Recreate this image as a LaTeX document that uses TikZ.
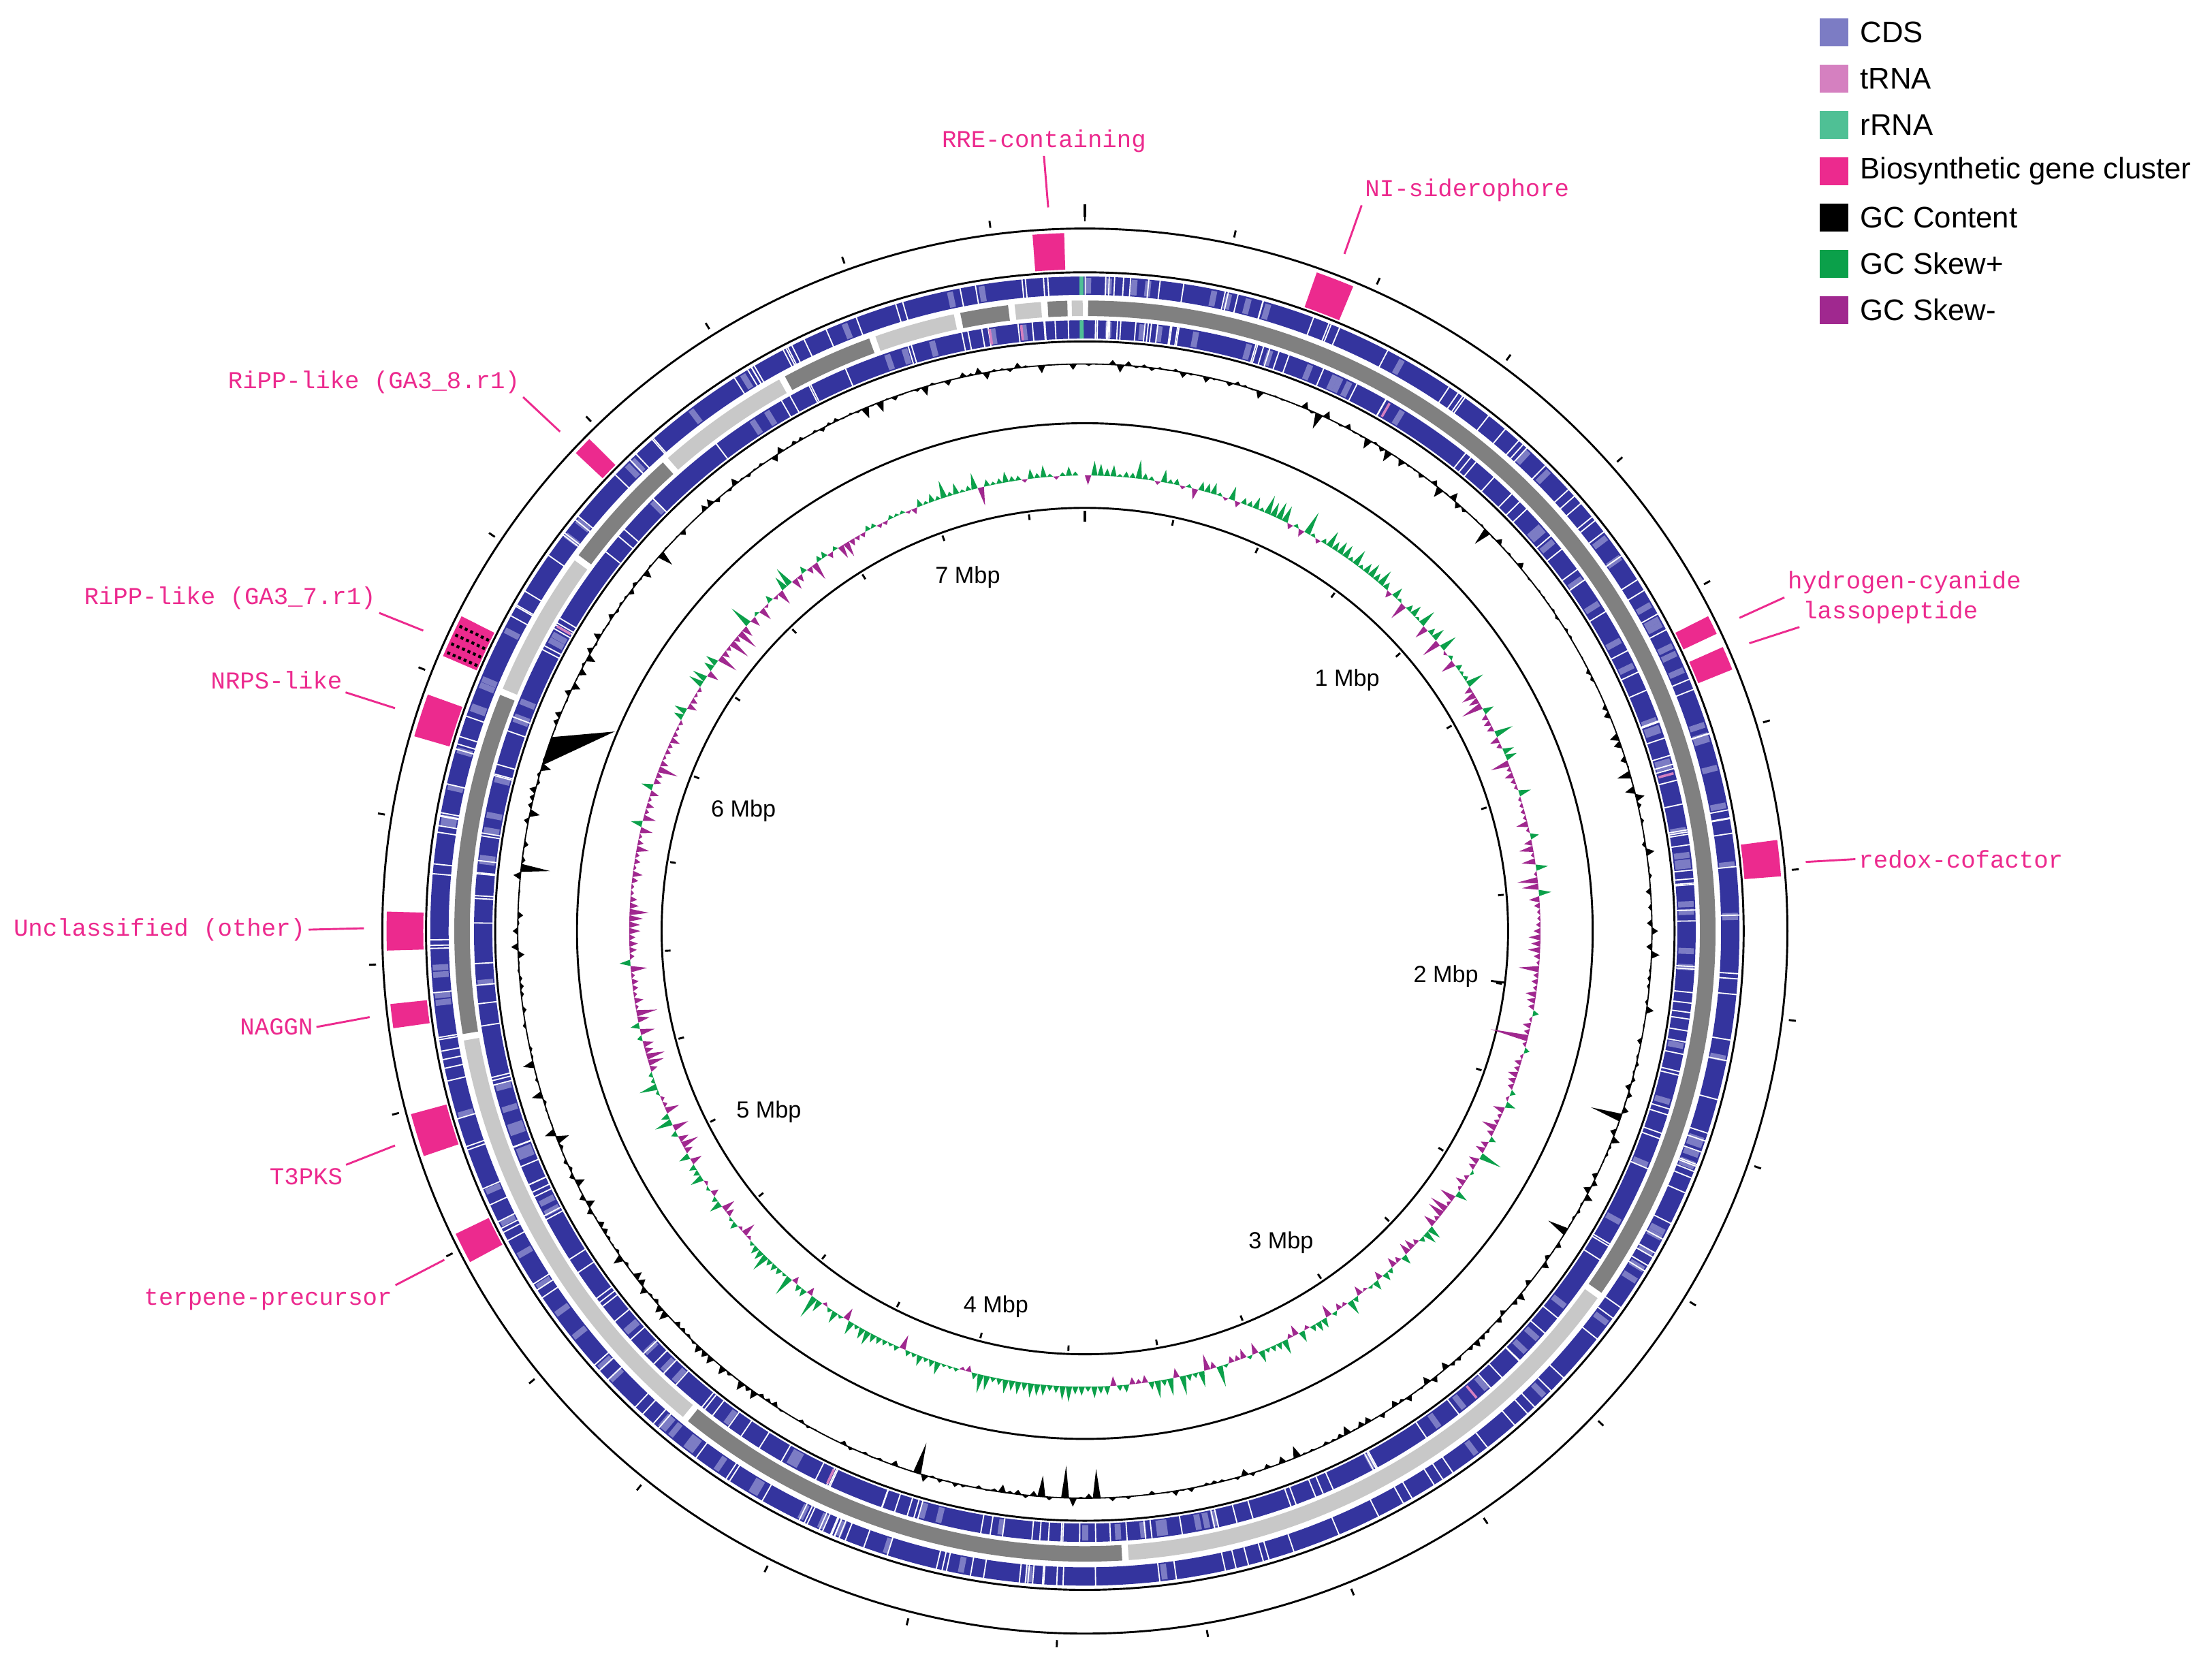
\documentclass[tikz,border=0pt]{standalone}
\usepackage{fontspec}
\setmainfont{Liberation Sans}
\newfontfamily\bgcfont{Liberation Mono}
\definecolor{cdsblue}{HTML}{34349E}
\definecolor{cdslight}{HTML}{7C7CC4}
\definecolor{trnacol}{HTML}{D580C0}
\definecolor{rrnacol}{HTML}{4FC095}
\definecolor{bgcpink}{HTML}{EC2A8E}
\definecolor{skewplus}{HTML}{0BA04A}
\definecolor{skewminus}{HTML}{A0288F}
\definecolor{contigdark}{HTML}{808080}
\definecolor{contiglight}{HTML}{C8C8C8}
\newcommand{\arcband}[5]{\fill[#5] ({90-(#1)}:#3) arc[start angle={90-(#1)}, end angle={90-(#2)}, radius=#3] -- ({90-(#2)}:#4) arc[start angle={90-(#2)}, end angle={90-(#1)}, radius=#4] -- cycle;}
\begin{document}
\begin{tikzpicture}[
  bgclabel/.style={text=bgcpink, font=\bgcfont\fontsize{4.9}{6}\selectfont, inner sep=0.5pt},
  leader/.style={bgcpink, line width=0.4pt},
  mbp/.style={font=\fontsize{4.7}{6}\selectfont},
  legtext/.style={anchor=west, font=\fontsize{6}{7}\selectfont, inner sep=0pt},
  ring/.style={line width=0.4pt}
]
\useasboundingbox (0,0) rectangle (15.68,-11.77);
\pgfmathsetseed{11}

\begin{scope}[shift={(7.69,-6.60)}]
% circles
\draw[ring] (0,0) circle (4.98);
\draw[ring] (0,0) circle (4.67);
\draw[ring] (0,0) circle (4.18);
\draw[ring] (0,0) circle (3.60);
\draw[ring] (0,0) circle (3.00);

% outer ticks
\foreach \k in {0,...,29}
  \draw[line width=0.4pt] ({90-12.15*\k}:5.03) -- ({90-12.15*\k}:5.08);
\draw[line width=0.6pt] (90:5.06) -- (90:5.15);
% inner ticks
\foreach \k in {0,...,29}
  \draw[line width=0.4pt] ({90-12.15*\k}:2.94) -- ({90-12.15*\k}:2.98);
\draw[line width=0.6pt] (90:2.90) -- (90:2.98);
\draw[line width=0.4pt] ({90-97}:2.90) -- ({90-97}:3.00);

% CDS rings
\fill[cdsblue, even odd rule] (0,0) circle (4.64) circle (4.51);
\fill[cdsblue, even odd rule] (0,0) circle (4.33) circle (4.20);
\foreach \i in {1,...,90} {
  \pgfmathsetmacro\a{360*rnd}
  \pgfmathsetmacro\b{360*rnd}
  \draw[cdslight, line width=1.2pt] ({90-\a}:4.52) -- ({90-\a}:4.63);
  \draw[cdslight, line width=1.2pt] ({90-\b}:4.21) -- ({90-\b}:4.32);
}
\foreach \i in {1,...,200} {
  \pgfmathsetmacro\a{360*rnd}
  \pgfmathsetmacro\b{360*rnd}
  \draw[white, line width=0.25pt] ({90-\a}:4.50) -- ({90-\a}:4.65);
  \draw[white, line width=0.25pt] ({90-\b}:4.19) -- ({90-\b}:4.34);
}
\foreach \t in {-9,-6,30,75,140,205,300}
  \draw[trnacol, line width=0.5pt] ({90-\t}:4.21) -- ({90-\t}:4.32);
\draw[rrnacol, line width=0.8pt] ({90+0.3}:4.51) -- ({90+0.3}:4.64);
\draw[rrnacol, line width=0.8pt] ({90+0.3}:4.20) -- ({90+0.3}:4.33);

% contigs
\arcband{0.3}{125}{4.36}{4.47}{contigdark}
\arcband{125.6}{176}{4.36}{4.47}{contiglight}
\arcband{176.6}{219}{4.36}{4.47}{contigdark}
\arcband{219.6}{260}{4.36}{4.47}{contiglight}
\arcband{260.6}{292}{4.36}{4.47}{contigdark}
\arcband{292.6}{306}{4.36}{4.47}{contiglight}
\arcband{306.6}{318}{4.36}{4.47}{contigdark}
\arcband{318.6}{331}{4.36}{4.47}{contiglight}
\arcband{331.6}{340}{4.36}{4.47}{contigdark}
\arcband{340.6}{348}{4.36}{4.47}{contiglight}
\arcband{348.6}{353}{4.36}{4.47}{contigdark}
\arcband{353.6}{356}{4.36}{4.47}{contiglight}
\arcband{356.6}{358.4}{4.36}{4.47}{contigdark}
\arcband{358.8}{359.8}{4.36}{4.47}{contiglight}

% GC content
\draw[line width=0.25pt] (0,0) circle (4.02);
\foreach \a in {0,0.8,...,359.2} {
  \pgfmathsetmacro\h{0.08*(2*rnd-1)*rnd+(rnd>0.95)*(-0.22*rnd)}
  \fill ({90-\a}:4.02) -- ({90-\a-0.4}:{4.02+\h}) -- ({90-\a-0.8}:4.02) -- cycle;
}
\fill ({90+73}:4.02) -- ({90+67}:3.62) -- ({90+70}:4.02) -- cycle;

% GC skew
\foreach \a in {0,0.8,...,359.2} {
  \pgfmathsetmacro\p{0.5+0.38*cos(2*(\a-10))}
  \pgfmathsetmacro\m{0.02+0.16*rnd*rnd+(rnd>0.94)*0.12*rnd}
  \pgfmathparse{rnd<\p ? 1 : 0}
  \ifnum\pgfmathresult=1
    \fill[skewplus] ({90-\a}:3.23) -- ({90-\a-0.4}:{3.23+\m}) -- ({90-\a-0.8}:3.23) -- cycle;
  \else
    \fill[skewminus] ({90-\a}:3.23) -- ({90-\a-0.4}:{3.23-\m}) -- ({90-\a-0.8}:3.23) -- cycle;
  \fi
}

% biosynthetic gene clusters
\arcband{-4.3}{-1.7}{4.69}{4.95}{bgcpink}
\arcband{19.4}{22.6}{4.69}{4.95}{bgcpink}
\arcband{-46.8}{-45.2}{4.69}{4.95}{bgcpink}
\arcband{-66.8}{-63.2}{4.69}{4.95}{bgcpink}
\foreach \t in {-66.4,-65.6,...,-63.4}
  \draw[black, line width=0.6pt, dash pattern=on 0.6pt off 0.6pt] ({90-\t}:4.70) -- ({90-\t}:4.94);
\arcband{-73.8}{-70.2}{4.69}{4.95}{bgcpink}
\arcband{-91.6}{-88.4}{4.69}{4.95}{bgcpink}
\arcband{-98}{-96}{4.69}{4.95}{bgcpink}
\arcband{-108.8}{-105.2}{4.69}{4.95}{bgcpink}
\arcband{-118.3}{-115.7}{4.69}{4.95}{bgcpink}
\arcband{63.2}{64.8}{4.69}{4.95}{bgcpink}
\arcband{66}{68}{4.69}{4.95}{bgcpink}
\arcband{82.5}{85.5}{4.69}{4.95}{bgcpink}
\end{scope}

% Mbp labels
\node[mbp] (m1) at (9.55,-4.82) {1 Mbp};
\node[mbp] (m2) at (10.25,-6.92) {2 Mbp};
\node[mbp] (m3) at (9.08,-8.81) {3 Mbp};
\node[mbp] (m4) at (7.06,-9.26) {4 Mbp};
\node[mbp] (m5) at (5.45,-7.88) {5 Mbp};
\node[mbp] (m6) at (5.27,-5.75) {6 Mbp};
\node[mbp] (m7) at (6.86,-4.09) {7 Mbp};

% cluster labels
\node[bgclabel] (lRRE) at (7.40,-1.00) {RRE-containing};
\node[bgclabel] (lNI) at (10.40,-1.35) {NI-siderophore};
\node[bgclabel] (lRiPPa) at (2.65,-2.71) {RiPP-like (GA3\_8.r1)};
\node[bgclabel] (lRiPPb) at (1.63,-4.24) {RiPP-like (GA3\_7.r1)};
\node[bgclabel] (lNRPS) at (1.96,-4.82) {NRPS-like};
\node[bgclabel] (lUncl) at (1.13,-6.59) {Unclassified (other)};
\node[bgclabel] (lNAGGN) at (1.96,-7.28) {NAGGN};
\node[bgclabel] (lT3PKS) at (2.17,-8.34) {T3PKS};
\node[bgclabel] (lTerp) at (1.90,-9.21) {terpene-precursor};
\node[bgclabel] (lHCN) at (13.50,-4.13) {hydrogen-cyanide};
\node[bgclabel] (lLasso) at (13.40,-4.34) {lassopeptide};
\node[bgclabel] (lRedox) at (13.90,-6.09) {redox-cofactor};

\coordinate (eRRE) at (7.43,-1.47);
\coordinate (eNI) at (9.53,-1.80);
\coordinate (eRiPPa) at (3.97,-3.06);
\coordinate (eRiPPb) at (3.00,-4.47);
\coordinate (eNRPS) at (2.80,-5.02);
\coordinate (eUncl) at (2.58,-6.58);
\coordinate (eNAGGN) at (2.62,-7.21);
\coordinate (eT3PKS) at (2.80,-8.12);
\coordinate (eTerp) at (3.15,-8.93);
\coordinate (eHCN) at (12.33,-4.38);
\coordinate (eLasso) at (12.40,-4.56);
\coordinate (eRedox) at (12.80,-6.11);

\draw[leader] (lRRE.south) -- (eRRE);
\draw[leader] (lNI.south west) -- (eNI);
\draw[leader] (lRiPPa.south east) -- (eRiPPa);
\draw[leader] (lRiPPb.south east) -- (eRiPPb);
\draw[leader] (lNRPS.south east) -- (eNRPS);
\draw[leader] (lUncl.east) -- (eUncl);
\draw[leader] (lNAGGN.east) -- (eNAGGN);
\draw[leader] (lT3PKS.north east) -- (eT3PKS);
\draw[leader] (lTerp.north east) -- (eTerp);
\draw[leader] (lHCN.south west) -- (eHCN);
\draw[leader] (lLasso.south west) -- (eLasso);
\draw[leader] (lRedox.west) -- (eRedox);

% legend
\foreach \col/\txt [count=\i] in {cdslight/CDS, trnacol/tRNA, rrnacol/rRNA, bgcpink/Biosynthetic gene cluster, black/GC Content, skewplus/GC Skew+, skewminus/GC Skew-} {
  \fill[\col] (12.90,{-0.13-0.328*(\i-1)}) rectangle ++(0.20,-0.20);
  \node[legtext] (leg\i) at (13.18,{-0.23-0.328*(\i-1)}) {\txt};
}
\end{tikzpicture}
\end{document}
